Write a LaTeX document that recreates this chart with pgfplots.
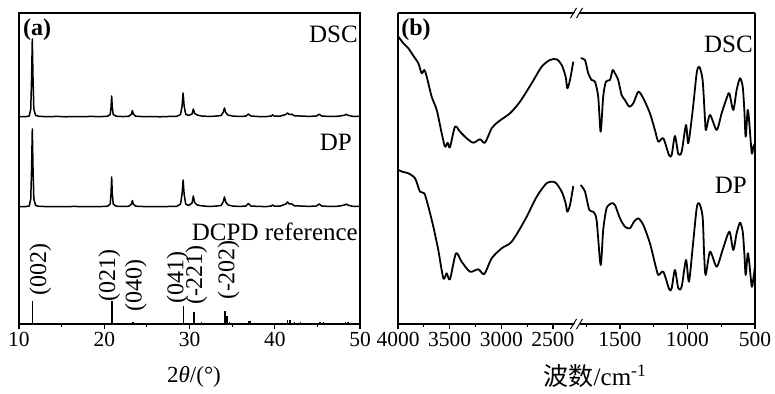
\documentclass[border=0pt]{standalone}
\usepackage{pgfplots}
\pgfplotsset{compat=1.18}
\usepackage{pgfplotstable}
\usepackage{fontspec}
\setmainfont{Liberation Serif}
\newfontfamily\cjk{Noto Sans CJK SC}

\pgfplotstableread{
x I
10 0.5
10.8 0.3
11.2 1
11.38 8
11.48 40
11.56 78
11.64 40
11.74 8
11.95 1.5
12.4 0.6
13.5 0.3
14.5 0.6
15.5 0.2
16.5 0.5
17.5 0.3
18.5 0.6
19.5 0.3
20.4 0.8
20.7 2.5
20.8 10
20.87 21
20.94 10
21.05 2.5
21.4 0.8
22.2 0.4
22.9 0.8
23.2 3
23.3 6.5
23.4 3
23.7 0.8
24.5 0.4
25.5 0.5
26.5 0.2
27.5 0.5
28.5 0.6
28.95 2.5
29.13 11
29.25 24
29.37 11
29.55 3
29.9 1.5
30.3 3
30.45 8
30.6 3.5
30.9 2
31.4 1
32.2 0.6
33.0 0.8
33.7 1.5
33.95 4.5
34.1 9
34.25 4.5
34.5 2
35 1
35.8 0.6
36.6 0.8
36.9 3
37.2 1
38 0.5
39.0 0.4
39.6 1
39.75 2.2
39.9 1
40.6 0.8
41.3 2.5
41.5 4
41.7 2.5
42.0 2.8
42.3 1.2
43 1
44 0.6
44.9 1
45.2 2.8
45.5 1
46.5 0.5
47.5 0.8
48.2 1.8
48.4 2.8
48.6 1.6
49.2 0.6
50 0.5
}\xrdDSC

\pgfplotstableread{
x I
10 0.5
10.8 0.4
11.2 1
11.38 8
11.48 40
11.56 78
11.64 40
11.74 8
11.95 1.5
12.4 0.6
13.5 0.4
14.5 0.5
15.5 0.3
16.5 0.6
17.5 0.3
18.5 0.5
19.5 0.4
20.4 0.8
20.7 3
20.8 14
20.87 30
20.94 14
21.05 3
21.4 0.8
22.2 0.5
22.9 0.8
23.2 3
23.3 6.5
23.4 3
23.7 0.8
24.5 0.5
25.5 0.4
26.5 0.3
27.5 0.5
28.5 0.6
28.95 3
29.13 13
29.25 27
29.37 13
29.55 3
29.9 1.5
30.3 4
30.45 11
30.6 4.5
30.9 2
31.4 1.2
32.2 0.6
33 0.8
33.7 1.5
33.95 5
34.1 10
34.25 5
34.5 2.2
35 1
35.8 0.6
36.6 0.9
36.9 3.5
37.2 1
38 0.6
39 0.4
39.6 1
39.75 2.2
39.9 1
40.6 0.8
41.3 3
41.5 5
41.7 3
42.0 3
42.3 1.2
43 1
44 0.6
44.9 1
45.2 3
45.5 1
46.5 0.5
47.5 0.8
48.2 2
48.4 3
48.6 1.8
49.2 0.6
50 0.5
}\xrdDP

\pgfplotstableread{
x h
11.6 23
18.3 1
20.9 23
23.4 2
24.4 1
29.28 18
30.5 12
31.4 2
34.15 13
34.4 8
34.7 2
36.9 3
37.1 3
39.7 1
41.5 4
41.8 4
42.3 2
43.0 2
45.3 2
45.7 1.5
47.0 1
48.3 1.5
48.6 2
}\xrdRef

\pgfplotstableread{
w y
3997 287.3
3950 281
3900 275.7
3850 268
3803 260.7
3771 250.7
3745 254
3722 247.3
3674 227.3
3625 214
3577 190.7
3545 177.3
3519 181.3
3497 176.7
3448 197.3
3400 192.3
3335 185.7
3271 181.3
3206 184.7
3158 181.3
3093 195.7
3029 202.3
2916 210.7
2819 222.3
2706 240.7
2609 257.3
2529 264
2464 264.7
2415 259
2377 247.3
2361 235.7
2335 244
2303 262.3
}\irDSCa

\pgfplotstableread{
w y
1791 265.7
1759 264
1735 250.7
1710 244
1685 242.3
1661 227.3
1643 192.3
1624 227.3
1604 242.3
1574 244
1554 254
1537 250.7
1513 244
1488 229
1463 224
1431 217.3
1401 220.7
1364 232.3
1327 225.7
1278 210.7
1241 194
1216 182.3
1179 185.7
1137 169
1117 169
1093 188
1068 170
1043 172.3
1011 199
994 180.7
961 214
932 250.7
913 257.3
888 244
870 204
863 194
833 209
784 194
747 210.7
710 225.7
690 230.7
661 214
636 234
611 245.7
591 237.3
579 214
569 187.3
554 214
542 200.7
524 170.7
512 177.3
500 180.7
}\irDSCb

\pgfplotstableread{
w y
3997 154
3950 152
3900 150.7
3835 145.7
3787 132.3
3745 130.7
3706 117.3
3658 97.3
3610 74
3561 45.7
3529 50.7
3497 44.7
3439 70.7
3384 62.3
3303 52.3
3223 54.7
3165 50
3093 65.7
2996 75.7
2899 82.3
2771 104
2657 127.3
2561 140.7
2480 141.7
2415 132.3
2377 120.7
2361 112.3
2335 119
2303 138
}\irDPa

\pgfplotstableread{
w y
1791 139
1759 132.3
1727 114
1698 112.3
1673 104
1643 59
1624 94
1599 115.7
1562 120.7
1537 119
1500 105.7
1463 97.3
1426 95.7
1396 102.3
1364 105.7
1327 99
1278 80.7
1241 60.7
1216 49
1179 52.3
1135 34.7
1117 35.7
1093 54
1068 35.7
1043 37.3
1011 64
989 42.3
961 77.3
932 115.7
913 120.7
888 107.3
876 67.3
865 49
833 72.3
784 57.3
740 74
690 92.3
661 74
636 90.7
611 101.3
591 92.3
579 70.7
569 49
554 70.7
542 60.7
524 37.3
512 45.7
500 57.3
}\irDPb

\newcommand\labfont{\fontsize{25}{28}\selectfont}
\newcommand\hklfont{\fontsize{24}{26}\selectfont}

\pgfplotsset{
  mystyle/.style={
    scale only axis, anchor=south west,
    height=311pt, ymin=0, ymax=311, ytick=\empty,
    tick align=outside,
    major tick length=5pt, minor tick length=3pt,
    axis line style={line width=1.3pt, black},
    every tick/.style={line width=1.2pt, black},
    tick label style={font=\fontsize{21.5}{24}\selectfont},
    /pgf/number format/assume math mode=true,
    /pgf/number format/1000 sep={},
    scaled x ticks=false,
    clip=false,
  },
  curve/.style={black, line width=1.8pt, line join=round, no marks, smooth, tension=0.45},
  xcurve/.style={black, line width=1.5pt, line join=round, no marks},
}

\begin{document}
\begin{tikzpicture}[x=1pt,y=1pt]
\path[use as bounding box] (0,0) rectangle (775,393);

% ---------- panel (a) ----------
\begin{axis}[mystyle, at={(19pt,69pt)}, width=341pt,
  xmin=10, xmax=50, xtick={10,20,30,40,50}, minor xtick={15,25,35,45},
  xtick pos=bottom]
  \addplot[xcurve] table[x=x, y expr=\thisrow{I}+207] {\xrdDSC};
  \addplot[xcurve] table[x=x, y expr=\thisrow{I}+117] {\xrdDP};
  \addplot[black, line width=1.6pt, ycomb, no marks] table[x=x, y=h] {\xrdRef};
  \node[rotate=90, font=\hklfont] at (axis cs:12.5,54) {(002)};
  \node[rotate=90, font=\hklfont] at (axis cs:20.6,48) {(021)};
  \node[rotate=90, font=\hklfont] at (axis cs:23.7,38) {(040)};
  \node[rotate=90, font=\hklfont] at (axis cs:28.6,46.5) {(041)};
  \node[rotate=90, font=\hklfont] at (axis cs:30.8,49) {(-221)};
  \node[rotate=90, font=\hklfont] at (axis cs:34.6,54) {(-202)};
\end{axis}

% ---------- panel (b), left segment ----------
\begin{axis}[mystyle, at={(398pt,69pt)}, width=179pt,
  xmin=2267, xmax=4000, x dir=reverse,
  axis x line*=bottom, axis y line*=left,
  xtick={2500,3000,3500,4000}, minor xtick={2750,3250,3750}]
  \addplot[curve] table[x=w, y=y] {\irDSCa};
  \addplot[curve] table[x=w, y=y] {\irDPa};
\end{axis}

% ---------- panel (b), right segment ----------
\begin{axis}[mystyle, at={(577pt,69pt)}, width=178pt,
  xmin=500, xmax=1818, x dir=reverse,
  axis x line*=bottom, axis y line*=right,
  xtick={500,1000,1500}, minor xtick={750,1250,1750}]
  \addplot[curve] table[x=w, y=y] {\irDSCb};
  \addplot[curve] table[x=w, y=y] {\irDPb};
\end{axis}

% top frame line of panel (b)
\draw[line width=1.3pt] (398,380) -- (755,380);
% break marks
\foreach \yy in {380,69}{
  \fill[white] (571.5,\yy-5) -- (577.5,\yy+5) -- (582.5,\yy+5) -- (576.5,\yy-5) -- cycle;
  \draw[line width=1pt] (570.5,\yy-5) -- (576.5,\yy+5);
  \draw[line width=1pt] (576.5,\yy-5) -- (582.5,\yy+5);
}

% panel labels
\node[font=\fontsize{24}{26}\selectfont\bfseries] at (37,363) {(a)};
\node[font=\fontsize{24}{26}\selectfont\bfseries] at (416,363) {(b)};

\node[font=\labfont, anchor=east, inner sep=0pt] at (358,359) {DSC};
\node[font=\labfont, anchor=east, inner sep=0pt] at (352,250.5) {DP};
\node[font=\labfont, anchor=east, inner sep=0pt] at (358,161) {DCPD reference};
\node[font=\labfont, anchor=east, inner sep=0pt] at (753,349) {DSC};
\node[font=\labfont, anchor=east, inner sep=0pt] at (747,208) {DP};

% axis titles
\node[font=\fontsize{23}{26}\selectfont] at (194,16) {2{\itshape θ}/(°)};
\node[font=\labfont, inner sep=1pt] at (595,17) {{\cjk 波数}/cm\textsuperscript{-1}};
\end{tikzpicture}
\end{document}
